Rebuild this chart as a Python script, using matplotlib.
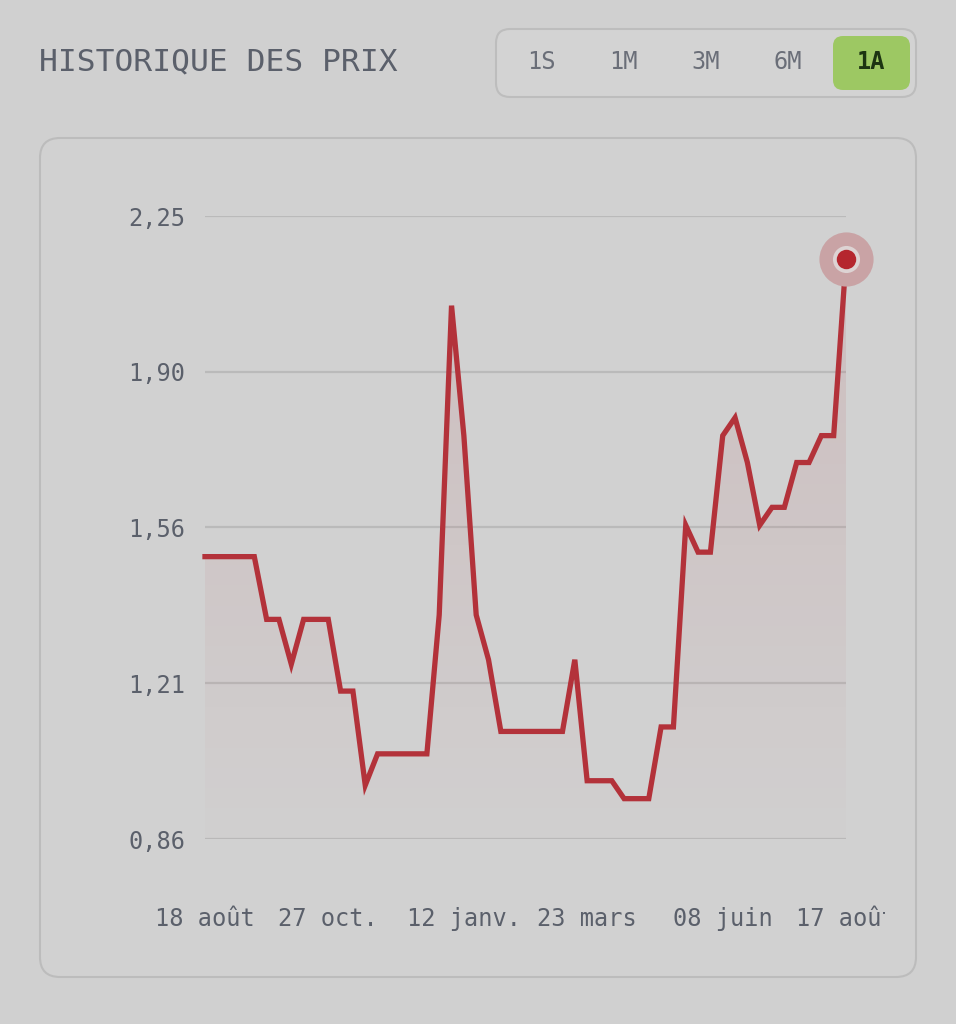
import matplotlib
matplotlib.use('Agg')
import numpy as np
import matplotlib.pyplot as plt
from matplotlib.patches import FancyBboxPatch, Rectangle

plt.rcParams['font.family'] = ['DejaVu Sans Mono', 'DejaVu Sans']

# weekly prices, 18 août -> 17 août
prices = [1.49, 1.49, 1.49, 1.49, 1.49, 1.35, 1.35, 1.25, 1.35, 1.35,
          1.35, 1.19, 1.19, 0.98, 1.05, 1.05, 1.05, 1.05, 1.05, 1.36,
          2.05, 1.76, 1.36, 1.26, 1.10, 1.10, 1.10, 1.10, 1.10, 1.10,
          1.26, 0.99, 0.99, 0.99, 0.95, 0.95, 0.95, 1.11, 1.11, 1.56,
          1.50, 1.50, 1.76, 1.80, 1.70, 1.56, 1.60, 1.60, 1.70, 1.70,
          1.76, 1.76, 2.153]
date_ticks = [0, 10, 21, 31, 42, 52]
date_labels = ['18 août', '27 oct.', '12 janv.', '23 mars', '08 juin', '17 août']
y_ticks = [0.86, 1.2075, 1.555, 1.9025, 2.25]
y_labels = ['0,86', '1,21', '1,56', '1,90', '2,25']
periods = ['1S', '1M', '3M', '6M', '1A']
active = '1A'

BG = '#d0d0d0'
RED = '#b3323a'
TXT = '#5b606b'

W, H = 956, 1024
fig = plt.figure(figsize=(W / 100, H / 100), dpi=100, facecolor=BG)

# pixel-space background layer for the card and buttons
bg = fig.add_axes([0, 0, 1, 1])
bg.set_xlim(0, W)
bg.set_ylim(H, 0)
bg.axis('off')

bg.text(39, 62, 'HISTORIQUE DES PRIX', fontsize=22.5, color=TXT,
        va='center', ha='left')

# period selector
bg.add_patch(FancyBboxPatch((496, 29), 420, 68, boxstyle='round,pad=0,rounding_size=14',
                            fc='#d3d3d3', ec='#bdbdbd', lw=1.5))
bx = [541, 623, 706, 788, 871]
for p, x in zip(periods, bx):
    if p == active:
        bg.add_patch(FancyBboxPatch((833, 36), 77, 54, boxstyle='round,pad=0,rounding_size=10',
                                    fc='#9dc863', ec='none'))
        bg.text(x, 62, p, fontsize=17, color='#1d3512', fontweight='bold',
                ha='center', va='center')
    else:
        bg.text(x, 62, p, fontsize=17, color='#6a6e78', ha='center', va='center')

# chart card
bg.add_patch(FancyBboxPatch((40, 138), 876, 839, boxstyle='round,pad=0,rounding_size=20',
                            fc='#d1d1d1', ec='#bcbcbc', lw=1.5))

# main chart
ax = fig.add_axes([205 / W, 1 - 839 / H, (846 - 205) / W, (839 - 216) / H])
ax.patch.set_alpha(0)
x = np.arange(len(prices))
ymin, ymax = y_ticks[0], y_ticks[-1]
ax.set_xlim(0, len(prices) - 1)
ax.set_ylim(ymin, ymax)

# gradient fill under the line
grad = np.zeros((256, 2, 4))
grad[..., 0] = 0.70
grad[..., 1] = 0.20
grad[..., 2] = 0.23
grad[..., 3] = np.linspace(0.13, 0.01, 256)[:, None]
poly = ax.fill_between(x, prices, ymin, color='none', lw=0)
img = ax.imshow(grad, extent=(0, len(prices) - 1, ymin, ymax), aspect='auto',
                origin='upper', zorder=1, interpolation='bilinear')
img.set_clip_path(poly.get_paths()[0], transform=ax.transData)

for s in ax.spines.values():
    s.set_visible(False)
ax.set_yticks(y_ticks)
ax.set_yticklabels(y_labels)
ax.set_xticks(date_ticks)
ax.set_xticklabels(date_labels)
ax.tick_params(length=0, labelsize=17, colors=TXT)
ax.tick_params(axis='y', pad=14)
ax.tick_params(axis='x', pad=49)
ax.grid(axis='y', color='#bababa', lw=1.6)
ax.set_axisbelow(True)

ax.plot(x, prices, color=RED, lw=3.8, solid_joinstyle='miter', zorder=3, clip_on=False)

# last point marker
ax.plot(x[-1], prices[-1], 'o', ms=39, color='#c9a3a5', mec='none', zorder=4, clip_on=False)
ax.plot(x[-1], prices[-1], 'o', ms=19.5, color='#ddd3d3', mec='none', zorder=5, clip_on=False)
ax.plot(x[-1], prices[-1], 'o', ms=14, color='#b5262e', mec='none', zorder=6, clip_on=False)

# the last date label is cut at the plot edge
clip = Rectangle((40, 0), 845, H, transform=bg.transData, fc='none', ec='none')
bg.add_patch(clip)
for lab in ax.get_xticklabels():
    lab.set_clip_path(clip)

fig.savefig('out.png', dpi=100, facecolor=BG)
